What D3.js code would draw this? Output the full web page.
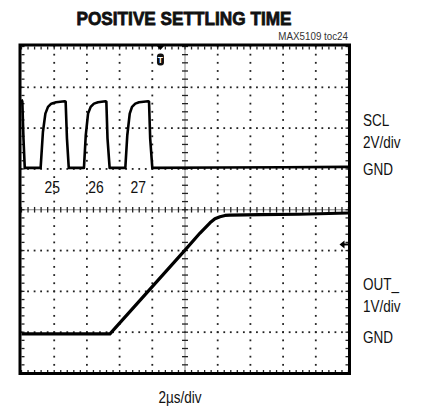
<!DOCTYPE html>
<html>
<head>
<meta charset="utf-8">
<script src="https://cdn.jsdelivr.net/npm/d3@7"></script>
<style>
  html, body { margin: 0; padding: 0; background: #fff; }
  svg { display: block; }
  text { font-family: "Liberation Sans", Arial, sans-serif; fill: #111; }
</style>
</head>
<body>
<svg id="chart" width="425" height="408"></svg>
<script>
// ---- Data (time in µs, 2µs/div, 10 div) ----
const timeDomain = [0, 20];
const divDomain = [0, 8];

// SCL channel (2V/div, GND at division 5 from bottom)
const sclTime = [0, 0.05, 0.12, 0.2, 1.17,
  1.31, 1.46, 1.62, 1.82, 2.11, 2.64, 2.70, 2.78, 2.89,
  3.82, 3.93, 4.07, 4.23, 4.43, 4.68, 5.13, 5.19, 5.26, 5.39,
  6.35, 6.47, 6.62, 6.76, 6.96, 7.19, 7.74, 7.80, 7.87, 8.0,
  12, 16, 20];
const sclVolt = [3.4, 3.3, 1.5, 0.05, 0.05,
  1.81, 2.71, 3.04, 3.2, 3.27, 3.32, 3.3, 1.5, 0.05,
  0.05, 1.65, 2.71, 3.04, 3.2, 3.27, 3.32, 3.3, 1.5, 0.05,
  0.05, 1.65, 2.71, 3.04, 3.2, 3.27, 3.32, 3.3, 1.5, 0.05,
  0.07, 0.08, 0.1];

// OUT_ channel (1V/div, GND at division 1 from bottom)
const outTime = [0, 2, 4, 5.41, 10.0, 10.92, 11.53, 11.83, 12.14, 12.45, 12.75, 14.6, 17, 20];
const outVolt = [-0.04, -0.04, -0.04, -0.04, 2.01, 2.43, 2.68, 2.78, 2.83, 2.86, 2.87, 2.88, 2.89, 2.92];

const pulseLabels = ["25", "26", "27"];
const pulseLabelTime = [1.88, 4.55, 7.14];

const sclGndDiv = 5, sclVoltsPerDiv = 2;
const outGndDiv = 1, outVoltsPerDiv = 1;
const triggerTime = 8.5;
const outMarkerDiv = 3.15;

// ---- Layout ----
const svg = d3.select("#chart");
const x = d3.scaleLinear().domain(timeDomain).range([21.5, 348.5]);
const y = d3.scaleLinear().domain(divDomain).range([373, 46.5]);
const minorX = 0.4, minorY = 0.2;

function narrowText(sel, px, py, str, size, anchor, sx, extra) {
  const t = sel.append("text")
    .attr("transform", `translate(${px},${py}) scale(${sx},1)`)
    .attr("text-anchor", anchor || "start")
    .style("font-size", size + "px")
    .text(str);
  if (extra) extra(t);
  return t;
}

const g = svg.append("g");

// dotted grid lines
const majorT = d3.range(2, 20, 2).filter(t => t !== 10);
const majorD = d3.range(1, 8, 1).filter(d => d !== 4);
const dots = [];
majorD.forEach(d => {
  d3.range(0, 20.001, minorX).forEach(t => dots.push([t, d]));
});
majorT.forEach(t => {
  d3.range(0, 8.001, minorY).forEach(d => dots.push([t, d]));
});
g.selectAll("rect.dot").data(dots).enter().append("rect")
  .attr("class", "dot")
  .attr("x", d => x(d[0]) - 0.9).attr("y", d => y(d[1]) - 0.9)
  .attr("width", 1.8).attr("height", 1.8).attr("fill", "#222");

// center axes
g.append("line").attr("x1", x(0)).attr("x2", x(20)).attr("y1", y(4)).attr("y2", y(4))
  .attr("stroke", "#888").attr("stroke-width", 1);
g.append("line").attr("x1", x(10)).attr("x2", x(10)).attr("y1", y(0)).attr("y2", y(8))
  .attr("stroke", "#888").attr("stroke-width", 1);
g.selectAll("line.ctx").data(d3.range(0, 20.001, minorX)).enter().append("line")
  .attr("x1", d => x(d)).attr("x2", d => x(d))
  .attr("y1", y(4) - 2.8).attr("y2", y(4) + 2.8)
  .attr("stroke", "#222").attr("stroke-width", 1.3);
g.selectAll("line.cty").data(d3.range(0, 8.001, minorY)).enter().append("line")
  .attr("x1", x(10) - 3).attr("x2", x(10) + 3)
  .attr("y1", d => y(d)).attr("y2", d => y(d))
  .attr("stroke", "#222").attr("stroke-width", 1.3);

// border ticks
const bt = [];
d3.range(0, 20.001, minorX).forEach(t => {
  bt.push([x(t), y(8), x(t), y(8) + 3]);
  bt.push([x(t), y(0), x(t), y(0) - 3]);
});
d3.range(0, 8.001, minorY).forEach(d => {
  bt.push([x(0), y(d), x(0) + 3, y(d)]);
  bt.push([x(20), y(d), x(20) - 3, y(d)]);
});
g.selectAll("line.bt").data(bt).enter().append("line")
  .attr("x1", d => d[0]).attr("y1", d => d[1]).attr("x2", d => d[2]).attr("y2", d => d[3])
  .attr("stroke", "#222").attr("stroke-width", 1.3);

// traces
const sclDiv = v => sclGndDiv + v / sclVoltsPerDiv;
const outDiv = v => outGndDiv + v / outVoltsPerDiv;
const line = d3.line().x(d => x(d[0])).y(d => y(d[1]));
g.append("path")
  .attr("d", line(sclTime.map((t, i) => [t, sclDiv(sclVolt[i])])))
  .attr("fill", "none").attr("stroke", "#000").attr("stroke-width", 2.6)
  .attr("stroke-linejoin", "round");
g.append("path")
  .attr("d", line(outTime.map((t, i) => [t, outDiv(outVolt[i])])))
  .attr("fill", "none").attr("stroke", "#000").attr("stroke-width", 3.2)
  .attr("stroke-linejoin", "round");

// frame
g.append("rect").attr("x", x(0) - 1.5).attr("y", y(8) - 1.5)
  .attr("width", x(20) - x(0) + 2.5).attr("height", y(0) - y(8) + 2)
  .attr("fill", "none").attr("stroke", "#000").attr("stroke-width", 3);

// trigger marker
const tx = x(triggerTime);
g.append("path").attr("d", `M${tx - 4},${y(8) - 1} L${tx + 4},${y(8) - 1} L${tx},${y(8) + 3.5} Z`).attr("fill", "#000");
g.append("rect").attr("x", tx - 3.5).attr("y", 53.5).attr("width", 7).attr("height", 12).attr("rx", 3).attr("fill", "#111");
g.append("text").attr("x", tx).attr("y", 62.5).attr("text-anchor", "middle")
  .style("font-size", "8.5px").style("font-weight", "bold").style("fill", "#fff").text("T");

// OUT level marker on right edge
const my = y(outMarkerDiv);
g.append("path").attr("d", `M${x(20) - 9},${my} L${x(20) - 4},${my - 4} L${x(20) - 4},${my + 4} Z`).attr("fill", "#000");
g.append("line").attr("x1", x(20) - 5).attr("x2", x(20)).attr("y1", my).attr("y2", my).attr("stroke", "#000").attr("stroke-width", 2);

// pulse labels
pulseLabels.forEach((d, i) => narrowText(svg, x(pulseLabelTime[i]), 192.5, d, 17, "middle", 0.82));

// titles
narrowText(svg, 184, 25, "POSITIVE SETTLING TIME", 18.5, "middle", 0.93,
  t => t.style("font-weight", "bold").style("stroke", "#111").style("stroke-width", "0.8px"));
narrowText(svg, 348, 39.5, "MAX5109 toc24", 11, "end", 0.89, t => t.style("fill", "#333"));

// right labels
const rightLabels = [["SCL", 126], ["2V/div", 148.3], ["GND", 175], ["OUT_", 289.5], ["1V/div", 311.7], ["GND", 342.7]];
rightLabels.forEach(d => narrowText(svg, 363, d[1], d[0], 16.5, "start", 0.82));

narrowText(svg, 180, 403, "2µs/div", 16.5, "middle", 0.82);
</script>
</body>
</html>
